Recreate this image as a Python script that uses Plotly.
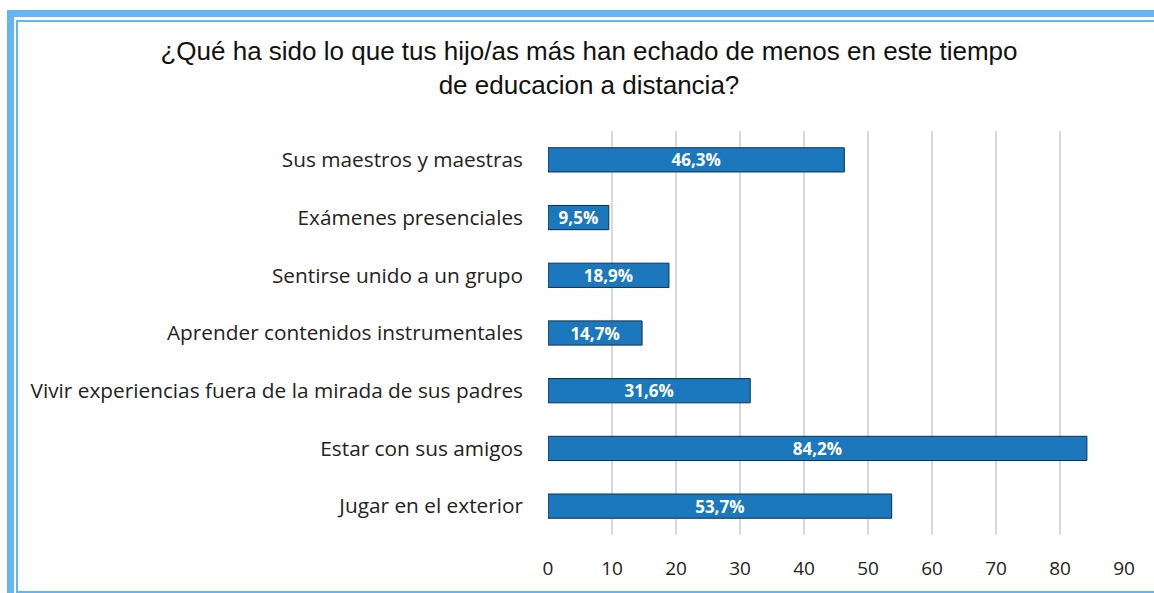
import plotly.graph_objects as go

categories = [
    "Sus maestros y maestras",
    "Exámenes presenciales",
    "Sentirse unido a un grupo",
    "Aprender contenidos instrumentales",
    "Vivir experiencias fuera de la mirada de sus padres",
    "Estar con sus amigos",
    "Jugar en el exterior",
]
values = [46.3, 9.5, 18.9, 14.7, 31.6, 84.2, 53.7]
x_ticks = [0, 10, 20, 30, 40, 50, 60, 70, 80, 90]

labels = [f"{v:.1f}%".replace(".", ",") for v in values]

W, H = 1154, 593
L, R, T, B = 548, 1124, 131, 535  # área de trazado en px


def px(x):
    return (x - L) / (R - L)


def py(y):
    return (B - y) / (B - T)


fig = go.Figure(go.Bar(
    x=values, y=categories, orientation="h",
    marker=dict(color="#1c78bd", line=dict(color="#0b2f4e", width=1)),
    width=0.42,
    text=labels, textposition="inside", insidetextanchor="middle",
    constraintext="none",
    textfont=dict(family="Open Sans, sans-serif", size=17, color="white", weight="bold"),
    cliponaxis=False,
))

# marco azul del gráfico
fig.add_shape(type="rect", xref="paper", yref="paper",
              x0=px(10.5), y0=py(13.5), x1=px(1170), y1=py(610),
              line=dict(color="#64b5f0", width=7), layer="below")
fig.add_shape(type="rect", xref="paper", yref="paper",
              x0=px(17), y0=py(21), x1=px(1170), y1=py(592),
              line=dict(color="#64b5f0", width=2), layer="below")

fig.update_layout(
    width=W, height=H,
    margin=dict(l=L, r=W - R, t=T, b=H - B),
    paper_bgcolor="white", plot_bgcolor="white",
    showlegend=False,
    title=dict(
        text="¿Qué ha sido lo que tus hijo/as más han echado de menos en este tiempo<br>de educacion a distancia?",
        x=589 / W, xanchor="center", y=1 - 60 / H, yanchor="middle",
        font=dict(family="Liberation Sans, Arial, sans-serif", size=26, color="#111111"),
    ),
    font=dict(family="Open Sans, sans-serif", size=18, color="#222222"),
)
fig.update_xaxes(range=[0, 90], tickvals=x_ticks, showgrid=True, gridcolor="#d9d9d9",
                 gridwidth=2, zeroline=False, showline=False, ticklabelstandoff=20,
                 tickfont=dict(size=19, color="#222222"))
fig.update_yaxes(categoryorder="array", categoryarray=categories[::-1],
                 showgrid=False, showline=False, ticklabelstandoff=24,
                 tickfont=dict(size=20.8, color="#222222"))

fig.write_html("out.html", config={"displayModeBar": False},
               post_script="document.body.style.margin='0';")
